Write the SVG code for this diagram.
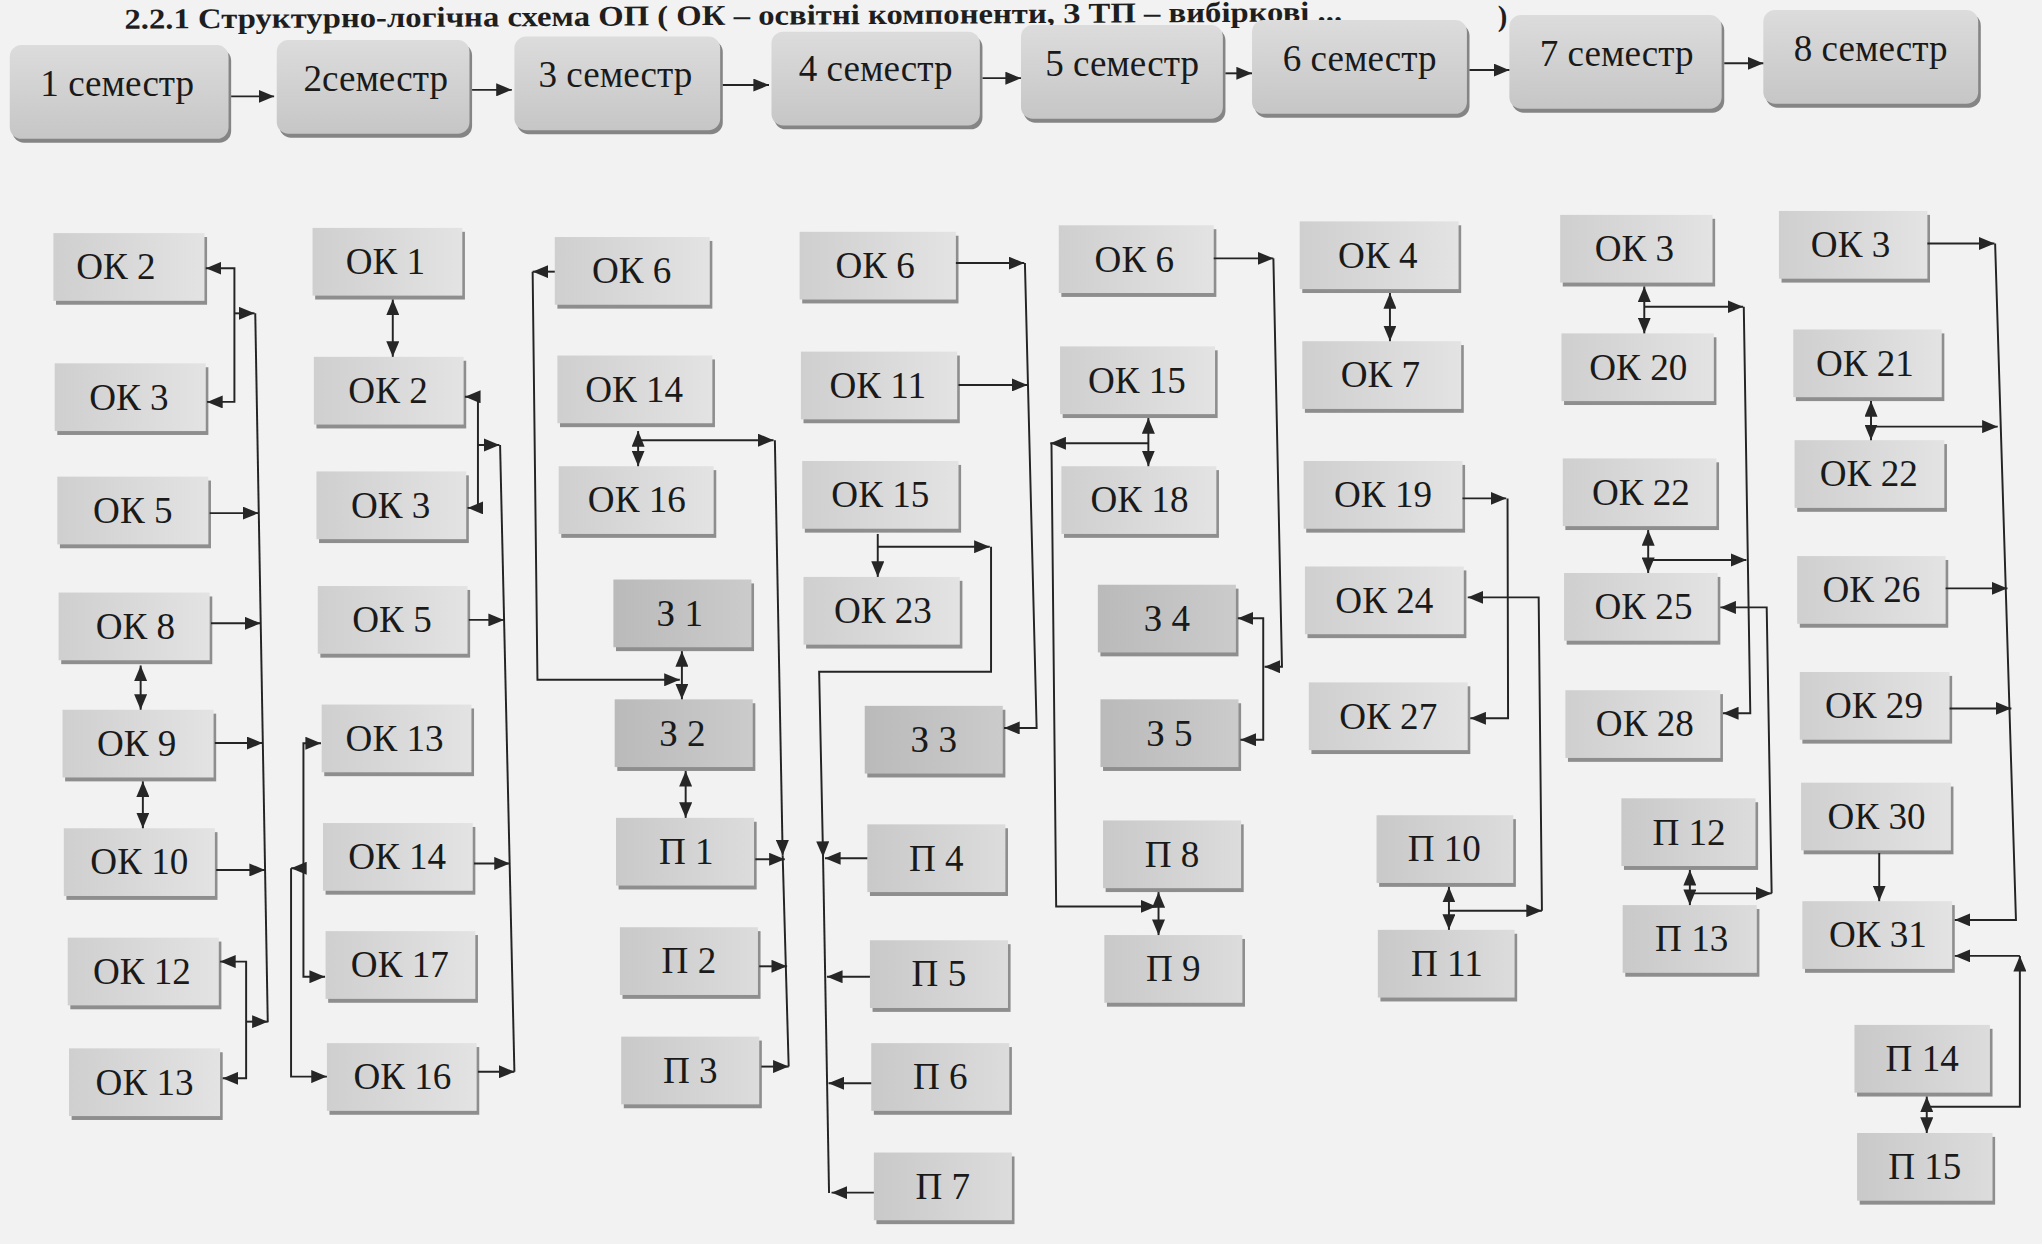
<svg xmlns="http://www.w3.org/2000/svg" width="2042" height="1244" viewBox="0 0 2042 1244">
<defs>
<linearGradient id="gOK" x1="0" y1="0" x2="1" y2="0"><stop offset="0" stop-color="#cfcfcf"/><stop offset="1" stop-color="#e3e3e3"/></linearGradient>
<linearGradient id="gP" x1="0" y1="0" x2="1" y2="0"><stop offset="0" stop-color="#c9c9c9"/><stop offset="1" stop-color="#dcdcdc"/></linearGradient>
<linearGradient id="gZ" x1="0" y1="0" x2="1" y2="0"><stop offset="0" stop-color="#bababa"/><stop offset="1" stop-color="#cbcbcb"/></linearGradient>
<linearGradient id="gS" x1="0" y1="0" x2="0" y2="1"><stop offset="0" stop-color="#dcdcdc"/><stop offset="1" stop-color="#c6c6c6"/></linearGradient>
<marker id="ah" viewBox="0 0 12 10" refX="12" refY="5" markerWidth="12" markerHeight="10" orient="auto-start-reverse" markerUnits="userSpaceOnUse"><path d="M0,0 L12,5 L0,10 z" fill="#262626"/></marker>
<style>
.sh{fill:#8e8e8e}
.ok{fill:url(#gOK)}
.p{fill:url(#gP)}
.z{fill:url(#gZ)}
.sm{fill:url(#gS)}
.ssh{fill:#858585}
.t{font-family:"Liberation Serif","Times New Roman",serif;font-size:28.5px;fill:#1a1a1a;text-anchor:middle}
.ttl{font-family:"Liberation Serif","Times New Roman",serif;font-size:22px;font-weight:bold;fill:#1e1e1e}
#connectors path{fill:none;stroke:#242424;stroke-width:1.5}
.a{marker-end:url(#ah)}
.b{marker-start:url(#ah);marker-end:url(#ah)}
</style>
</defs>
<rect x="0" y="0" width="2042" height="1244" fill="#f2f2f2"/>
<g transform="scale(1.3023)">
<g id="title">
<text class="ttl" x="95.6" y="22" textLength="935" lengthAdjust="spacingAndGlyphs" transform="rotate(-0.35 95.6 22)">2.2.1 Структурно-логічна схема ОП ( ОК – освітні компоненти, З ТП – вибіркові ...</text>
<text class="ttl" x="1150" y="20">)</text>
</g>

<g id="semesters">
<g id="sem1"><rect class="ssh" x="9.5" y="37.6" width="168" height="72" rx="9"/><rect class="sm" x="7.5" y="34.6" width="168" height="72" rx="9"/><text class="t" x="90" y="73.6">1 семестр</text></g>
<g id="sem2"><rect class="ssh" x="214.5" y="33.7" width="148" height="72" rx="9"/><rect class="sm" x="212.5" y="30.7" width="148" height="72" rx="9"/><text class="t" x="288.5" y="69.7">2семестр</text></g>
<g id="sem3"><rect class="ssh" x="397" y="31" width="158" height="72" rx="9"/><rect class="sm" x="395" y="28" width="158" height="72" rx="9"/><text class="t" x="472.5" y="66.5">3 семестр</text></g>
<g id="sem4"><rect class="ssh" x="594.4" y="27.3" width="160" height="72" rx="9"/><rect class="sm" x="592.4" y="24.3" width="160" height="72" rx="9"/><text class="t" x="672.4" y="62.3">4 семестр</text></g>
<g id="sem5"><rect class="ssh" x="786" y="22.2" width="155" height="72" rx="9"/><rect class="sm" x="784" y="19.2" width="155" height="72" rx="9"/><text class="t" x="861.6" y="58.2">5 семестр</text></g>
<g id="sem6"><rect class="ssh" x="963.4" y="18.4" width="165" height="72" rx="9"/><rect class="sm" x="961.4" y="15.4" width="165" height="72" rx="9"/><text class="t" x="1044" y="54.4">6 семестр</text></g>
<g id="sem7"><rect class="ssh" x="1161" y="14.5" width="163" height="72" rx="9"/><rect class="sm" x="1159" y="11.5" width="163" height="72" rx="9"/><text class="t" x="1241.4" y="50.5">7 семестр</text></g>
<g id="sem8"><rect class="ssh" x="1356" y="10.7" width="165" height="72" rx="9"/><rect class="sm" x="1354" y="7.7" width="165" height="72" rx="9"/><text class="t" x="1436.4" y="46.7">8 семестр</text></g>
</g>

<g id="nodes">
<!-- column 1 -->
<g id="s1-ok2"><rect class="sh" x="43" y="182" width="116" height="52"/><rect class="ok" x="41" y="179" width="116" height="52"/><text class="t" x="89" y="214.5">ОК 2</text></g>
<g id="s1-ok3"><rect class="sh" x="44" y="282" width="116" height="52"/><rect class="ok" x="42" y="279" width="116" height="52"/><text class="t" x="99" y="314.5">ОК 3</text></g>
<g id="s1-ok5"><rect class="sh" x="46" y="369" width="116" height="52"/><rect class="ok" x="44" y="366" width="116" height="52"/><text class="t" x="102" y="401.5">ОК 5</text></g>
<g id="s1-ok8"><rect class="sh" x="47" y="458" width="116" height="52"/><rect class="ok" x="45" y="455" width="116" height="52"/><text class="t" x="104" y="490.5">ОК 8</text></g>
<g id="s1-ok9"><rect class="sh" x="50" y="548" width="116" height="52"/><rect class="ok" x="48" y="545" width="116" height="52"/><text class="t" x="105" y="580.5">ОК 9</text></g>
<g id="s1-ok10"><rect class="sh" x="51" y="639" width="116" height="52"/><rect class="ok" x="49" y="636" width="116" height="52"/><text class="t" x="107" y="671.5">ОК 10</text></g>
<g id="s1-ok12"><rect class="sh" x="54" y="723" width="116" height="52"/><rect class="ok" x="52" y="720" width="116" height="52"/><text class="t" x="109" y="755.5">ОК 12</text></g>
<g id="s1-ok13"><rect class="sh" x="55" y="808" width="116" height="52"/><rect class="ok" x="53" y="805" width="116" height="52"/><text class="t" x="111" y="840.5">ОК 13</text></g>
<!-- column 2 -->
<g id="s2-ok1"><rect class="sh" x="242" y="178" width="115" height="52"/><rect class="ok" x="240" y="175" width="115" height="52"/><text class="t" x="296" y="210.5">ОК 1</text></g>
<g id="s2-ok2"><rect class="sh" x="243" y="277" width="115" height="52"/><rect class="ok" x="241" y="274" width="115" height="52"/><text class="t" x="298" y="309.5">ОК 2</text></g>
<g id="s2-ok3"><rect class="sh" x="245" y="365" width="115" height="52"/><rect class="ok" x="243" y="362" width="115" height="52"/><text class="t" x="300" y="397.5">ОК 3</text></g>
<g id="s2-ok5"><rect class="sh" x="246" y="453" width="115" height="52"/><rect class="ok" x="244" y="450" width="115" height="52"/><text class="t" x="301" y="485.5">ОК 5</text></g>
<g id="s2-ok13"><rect class="sh" x="249" y="544" width="115" height="52"/><rect class="ok" x="247" y="541" width="115" height="52"/><text class="t" x="303" y="576.5">ОК 13</text></g>
<g id="s2-ok14"><rect class="sh" x="250" y="635" width="115" height="52"/><rect class="ok" x="248" y="632" width="115" height="52"/><text class="t" x="305" y="667.5">ОК 14</text></g>
<g id="s2-ok17"><rect class="sh" x="252" y="718" width="115" height="52"/><rect class="ok" x="250" y="715" width="115" height="52"/><text class="t" x="307" y="750.5">ОК 17</text></g>
<g id="s2-ok16"><rect class="sh" x="253" y="804" width="115" height="52"/><rect class="ok" x="251" y="801" width="115" height="52"/><text class="t" x="309" y="836.5">ОК 16</text></g>
<!-- column 3 -->
<g id="s3-ok6"><rect class="sh" x="428" y="185" width="119" height="52"/><rect class="ok" x="426" y="182" width="119" height="52"/><text class="t" x="485" y="217.5">ОК 6</text></g>
<g id="s3-ok14"><rect class="sh" x="430" y="276" width="119" height="52"/><rect class="ok" x="428" y="273" width="119" height="52"/><text class="t" x="487" y="308.5">ОК 14</text></g>
<g id="s3-ok16"><rect class="sh" x="431" y="361" width="119" height="52"/><rect class="ok" x="429" y="358" width="119" height="52"/><text class="t" x="489" y="393.5">ОК 16</text></g>
<g id="s3-z1"><rect class="sh" x="473" y="448" width="106" height="52"/><rect class="z" x="471" y="445" width="106" height="52"/><text class="t" x="522" y="480.5">З 1</text></g>
<g id="s3-z2"><rect class="sh" x="474" y="540" width="106" height="52"/><rect class="z" x="472" y="537" width="106" height="52"/><text class="t" x="524" y="572.5">З 2</text></g>
<g id="s3-p1"><rect class="sh" x="475" y="631" width="106" height="52"/><rect class="p" x="473" y="628" width="106" height="52"/><text class="t" x="527" y="663.5">П 1</text></g>
<g id="s3-p2"><rect class="sh" x="478" y="715" width="106" height="52"/><rect class="p" x="476" y="712" width="106" height="52"/><text class="t" x="529" y="747.5">П 2</text></g>
<g id="s3-p3"><rect class="sh" x="479" y="799" width="106" height="52"/><rect class="p" x="477" y="796" width="106" height="52"/><text class="t" x="530" y="831.5">П 3</text></g>
<!-- column 4 -->
<g id="s4-ok6"><rect class="sh" x="616" y="181" width="120" height="52"/><rect class="ok" x="614" y="178" width="120" height="52"/><text class="t" x="672" y="213.5">ОК 6</text></g>
<g id="s4-ok11"><rect class="sh" x="617" y="273" width="120" height="52"/><rect class="ok" x="615" y="270" width="120" height="52"/><text class="t" x="674" y="305.5">ОК 11</text></g>
<g id="s4-ok15"><rect class="sh" x="618" y="357" width="120" height="52"/><rect class="ok" x="616" y="354" width="120" height="52"/><text class="t" x="676" y="389.5">ОК 15</text></g>
<g id="s4-ok23"><rect class="sh" x="619" y="446" width="120" height="52"/><rect class="ok" x="617" y="443" width="120" height="52"/><text class="t" x="678" y="478.5">ОК 23</text></g>
<g id="s4-z3"><rect class="sh" x="666" y="545" width="106" height="52"/><rect class="z" x="664" y="542" width="106" height="52"/><text class="t" x="717" y="577.5">З 3</text></g>
<g id="s4-p4"><rect class="sh" x="668" y="636" width="106" height="52"/><rect class="p" x="666" y="633" width="106" height="52"/><text class="t" x="719" y="668.5">П 4</text></g>
<g id="s4-p5"><rect class="sh" x="670" y="725" width="106" height="52"/><rect class="p" x="668" y="722" width="106" height="52"/><text class="t" x="721" y="757.5">П 5</text></g>
<g id="s4-p6"><rect class="sh" x="671" y="804" width="106" height="52"/><rect class="p" x="669" y="801" width="106" height="52"/><text class="t" x="722" y="836.5">П 6</text></g>
<g id="s4-p7"><rect class="sh" x="673" y="888" width="106" height="52"/><rect class="p" x="671" y="885" width="106" height="52"/><text class="t" x="724" y="920.5">П 7</text></g>
<!-- column 5 -->
<g id="s5-ok6"><rect class="sh" x="815" y="176" width="119" height="52"/><rect class="ok" x="813" y="173" width="119" height="52"/><text class="t" x="871" y="208.5">ОК 6</text></g>
<g id="s5-ok15"><rect class="sh" x="816" y="269" width="119" height="52"/><rect class="ok" x="814" y="266" width="119" height="52"/><text class="t" x="873" y="301.5">ОК 15</text></g>
<g id="s5-ok18"><rect class="sh" x="817" y="361" width="119" height="52"/><rect class="ok" x="815" y="358" width="119" height="52"/><text class="t" x="875" y="393.5">ОК 18</text></g>
<g id="s5-z4"><rect class="sh" x="845" y="452" width="106" height="52"/><rect class="z" x="843" y="449" width="106" height="52"/><text class="t" x="896" y="484.5">З 4</text></g>
<g id="s5-z5"><rect class="sh" x="847" y="540" width="106" height="52"/><rect class="z" x="845" y="537" width="106" height="52"/><text class="t" x="898" y="572.5">З 5</text></g>
<g id="s5-p8"><rect class="sh" x="849" y="633" width="106" height="52"/><rect class="p" x="847" y="630" width="106" height="52"/><text class="t" x="900" y="665.5">П 8</text></g>
<g id="s5-p9"><rect class="sh" x="850" y="721" width="106" height="52"/><rect class="p" x="848" y="718" width="106" height="52"/><text class="t" x="901" y="753.5">П 9</text></g>
<!-- column 6 -->
<g id="s6-ok4"><rect class="sh" x="1000" y="173" width="122" height="52"/><rect class="ok" x="998" y="170" width="122" height="52"/><text class="t" x="1058" y="205.5">ОК 4</text></g>
<g id="s6-ok7"><rect class="sh" x="1002" y="265" width="122" height="52"/><rect class="ok" x="1000" y="262" width="122" height="52"/><text class="t" x="1060" y="297.5">ОК 7</text></g>
<g id="s6-ok19"><rect class="sh" x="1003" y="357" width="122" height="52"/><rect class="ok" x="1001" y="354" width="122" height="52"/><text class="t" x="1062" y="389.5">ОК 19</text></g>
<g id="s6-ok24"><rect class="sh" x="1004" y="438" width="122" height="52"/><rect class="ok" x="1002" y="435" width="122" height="52"/><text class="t" x="1063" y="470.5">ОК 24</text></g>
<g id="s6-ok27"><rect class="sh" x="1007" y="527" width="122" height="52"/><rect class="ok" x="1005" y="524" width="122" height="52"/><text class="t" x="1066" y="559.5">ОК 27</text></g>
<g id="s6-p10"><rect class="sh" x="1059" y="629" width="105" height="52"/><rect class="p" x="1057" y="626" width="105" height="52"/><text class="t" x="1109" y="661.5">П 10</text></g>
<g id="s6-p11"><rect class="sh" x="1060" y="717" width="105" height="52"/><rect class="p" x="1058" y="714" width="105" height="52"/><text class="t" x="1111" y="749.5">П 11</text></g>
<!-- column 7 -->
<g id="s7-ok3"><rect class="sh" x="1200" y="168" width="117" height="52"/><rect class="ok" x="1198" y="165" width="117" height="52"/><text class="t" x="1255" y="200.5">ОК 3</text></g>
<g id="s7-ok20"><rect class="sh" x="1201" y="259" width="117" height="52"/><rect class="ok" x="1199" y="256" width="117" height="52"/><text class="t" x="1258" y="291.5">ОК 20</text></g>
<g id="s7-ok22"><rect class="sh" x="1202" y="355" width="118" height="52"/><rect class="ok" x="1200" y="352" width="118" height="52"/><text class="t" x="1260" y="387.5">ОК 22</text></g>
<g id="s7-ok25"><rect class="sh" x="1203" y="443" width="118" height="52"/><rect class="ok" x="1201" y="440" width="118" height="52"/><text class="t" x="1262" y="475.5">ОК 25</text></g>
<g id="s7-ok28"><rect class="sh" x="1204" y="533" width="119" height="52"/><rect class="ok" x="1202" y="530" width="119" height="52"/><text class="t" x="1263" y="565.5">ОК 28</text></g>
<g id="s7-p12"><rect class="sh" x="1247" y="616" width="103" height="52"/><rect class="p" x="1245" y="613" width="103" height="52"/><text class="t" x="1297" y="648.5">П 12</text></g>
<g id="s7-p13"><rect class="sh" x="1248" y="698" width="103" height="52"/><rect class="p" x="1246" y="695" width="103" height="52"/><text class="t" x="1299" y="730.5">П 13</text></g>
<!-- column 8 -->
<g id="s8-ok3"><rect class="sh" x="1368" y="165" width="114" height="52"/><rect class="ok" x="1366" y="162" width="114" height="52"/><text class="t" x="1421" y="197.5">ОК 3</text></g>
<g id="s8-ok21"><rect class="sh" x="1379" y="256" width="114" height="52"/><rect class="ok" x="1377" y="253" width="114" height="52"/><text class="t" x="1432" y="288.5">ОК 21</text></g>
<g id="s8-ok22"><rect class="sh" x="1380" y="341" width="115" height="52"/><rect class="ok" x="1378" y="338" width="115" height="52"/><text class="t" x="1435" y="373.5">ОК 22</text></g>
<g id="s8-ok26"><rect class="sh" x="1382" y="430" width="114" height="52"/><rect class="ok" x="1380" y="427" width="114" height="52"/><text class="t" x="1437" y="462.5">ОК 26</text></g>
<g id="s8-ok29"><rect class="sh" x="1384" y="519" width="115" height="52"/><rect class="ok" x="1382" y="516" width="115" height="52"/><text class="t" x="1439" y="551.5">ОК 29</text></g>
<g id="s8-ok30"><rect class="sh" x="1385" y="604" width="115" height="52"/><rect class="ok" x="1383" y="601" width="115" height="52"/><text class="t" x="1441" y="636.5">ОК 30</text></g>
<g id="s8-ok31"><rect class="sh" x="1386" y="695" width="115" height="52"/><rect class="ok" x="1384" y="692" width="115" height="52"/><text class="t" x="1442" y="727.5">ОК 31</text></g>
<g id="s8-p14"><rect class="sh" x="1426" y="790" width="104" height="52"/><rect class="p" x="1424" y="787" width="104" height="52"/><text class="t" x="1476" y="822.5">П 14</text></g>
<g id="s8-p15"><rect class="sh" x="1428" y="873" width="104" height="52"/><rect class="p" x="1426" y="870" width="104" height="52"/><text class="t" x="1478" y="905.5">П 15</text></g>
</g>

<g id="connectors">
<!-- semester chain -->
<path class="a" d="M177.5,74 H210.5"/>
<path class="a" d="M362.5,69 H393"/>
<path class="a" d="M555,65.3 H590.5"/>
<path class="a" d="M754.5,60 H784"/>
<path class="a" d="M941,56.3 H961.4"/>
<path class="a" d="M1128.4,53.8 H1159"/>
<path class="a" d="M1324,48.6 H1354"/>
<!-- column 1 -->
<path class="b" d="M158,206 H180 V308.6 H159"/>
<path class="a" d="M180,240.6 H195.5"/>
<path d="M196,240.6 L205.6,785"/>
<path class="a" d="M161,394 H198.5"/>
<path class="a" d="M162,478.6 H200"/>
<path class="a" d="M165,570.6 H201.6"/>
<path class="a" d="M166,668 H203.5"/>
<path class="b" d="M108,511 V545"/>
<path class="b" d="M109.7,600 V636"/>
<path class="b" d="M169,738.4 H189 V828 H171"/>
<path class="a" d="M189,784.5 H205.6"/>
<!-- column 2 -->
<path class="b" d="M301.6,230 V274"/>
<path class="b" d="M357,304.7 H367 V390 H359"/>
<path class="a" d="M367,341.7 H383.5"/>
<path d="M384,341.7 L395,823"/>
<path class="a" d="M360,476 H387"/>
<path class="a" d="M364,663 H391.5"/>
<path class="a" d="M367,823 H395"/>
<path class="b" d="M246.5,570.7 H233 V750 H249.6"/>
<path class="a" d="M233,666.7 H223.5"/>
<path class="a" d="M223.5,666.7 V826.7 H251"/>
<!-- column 3 -->
<path class="a" d="M426,208.6 H409"/>
<path class="a" d="M409,208.6 L412.7,522 H522"/>
<path class="b" d="M523.6,500 V537"/>
<path class="b" d="M526.5,592 V628"/>
<path class="b" d="M490,331 V358"/>
<path class="a" d="M490,338 H594"/>
<path class="a" d="M595,338 L601,657"/>
<path d="M601,657 L605.6,819"/>
<path class="a" d="M580,659.8 H602.6"/>
<path class="a" d="M583,742 H604.4"/>
<path class="a" d="M584.6,819 H605.6"/>
<!-- column 4 -->
<path class="a" d="M734,202 H786.5"/>
<path class="a" d="M787,202 L796,559 H771"/>
<path class="a" d="M736,295.6 H789"/>
<path class="a" d="M674,410 V443"/>
<path class="a" d="M674,419.8 H760"/>
<path class="a" d="M761,419.8 V515.8 H629 L632,658"/>
<path d="M632,658 L636.6,916"/>
<path class="a" d="M666,659 H633.5"/>
<path class="a" d="M668,750 H635"/>
<path class="a" d="M669,831.8 H636.2"/>
<path class="a" d="M671,915.8 H638.5"/>
<!-- column 5 -->
<path class="a" d="M932,198.4 H977.8"/>
<path class="a" d="M977.8,198.4 L984.4,512 H971"/>
<path class="b" d="M950.5,474.8 H970 V568 H952.5"/>
<path class="b" d="M881.8,321 V358"/>
<path class="a" d="M881.8,340.4 H806.5"/>
<path class="a" d="M807.4,340.4 L811,696 H888"/>
<path class="b" d="M889.6,685 V718"/>
<!-- column 6 -->
<path class="b" d="M1067.3,225 V262"/>
<path class="a" d="M1123,382.7 H1156.6"/>
<path class="a" d="M1157.6,382.7 L1158,551.6 H1129"/>
<path class="a" d="M1112.6,699.3 H1184"/>
<path class="a" d="M1184,699.3 L1181.5,458.7 H1127"/>
<path class="b" d="M1112.6,681 V714"/>
<!-- column 7 -->
<path class="b" d="M1262.6,220 V256"/>
<path class="a" d="M1262.6,235.5 H1338.5"/>
<path class="a" d="M1339,235.5 L1344,547.7 H1323"/>
<path class="b" d="M1265.6,407 V440"/>
<path class="a" d="M1265.6,430 H1341"/>
<path class="a" d="M1297.6,686 H1360.4"/>
<path class="a" d="M1360.4,686 L1356.6,466.4 H1321"/>
<path class="b" d="M1297.6,668 V695"/>
<!-- column 8 -->
<path class="a" d="M1480,187 H1531.5"/>
<path class="a" d="M1532,187 L1548,706.4 H1501"/>
<path class="b" d="M1436.7,308 V338"/>
<path class="a" d="M1436.7,327.6 H1534"/>
<path class="a" d="M1494,451.8 H1541.5"/>
<path class="a" d="M1497,544 H1544.5"/>
<path class="a" d="M1443,655 V692"/>
<path class="a" d="M1479.5,849.8 H1551 V734"/>
<path class="a" d="M1551,734 H1501"/>
<path class="b" d="M1479.5,842 V870"/>
</g>
</g>
</svg>
